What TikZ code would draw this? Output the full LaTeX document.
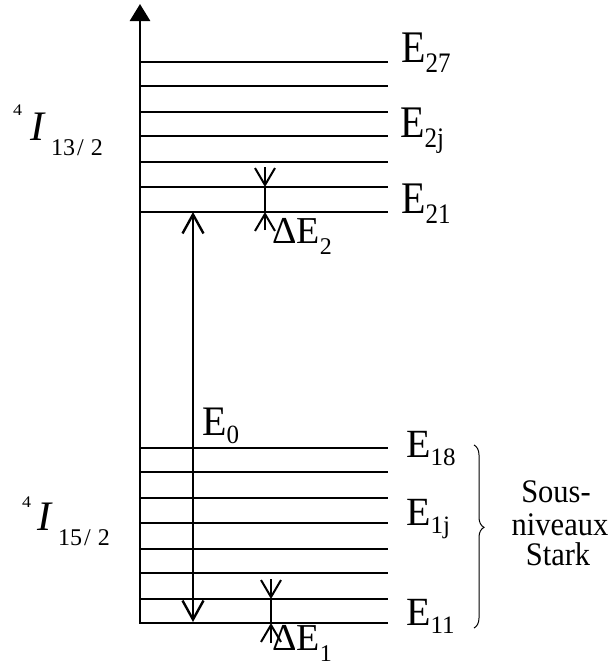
\documentclass[tikz,border=0pt]{standalone}
\usepackage{fontspec}
\usepackage{graphicx}
\setmainfont{Liberation Serif}
\usetikzlibrary{arrows.meta,decorations.pathreplacing}
\newcommand\lvlE[2][9pt]{E\raisebox{-#1}{\fontsize{25}{25}\selectfont #2}}
\newcommand\dlvlE[1]{ΔE\raisebox{-11pt}{\fontsize{24}{24}\selectfont #1}}
\newcommand\vstretch[2]{\scalebox{1}[#1]{#2}}
\tikzset{
  level/.style={line width=1.5pt},
  axisline/.style={line width=2.8pt, line join=miter, -{Triangle[length=17pt,width=20pt]}},
  trans/.style={line width=2.4pt, {Straight Barb[length=19pt,width=21pt]}-{Straight Barb[length=19pt,width=21pt]}},
  gapmark/.style={line width=2pt, -{Straight Barb[length=17pt,width=20pt]}},
  gapline/.style={line width=2pt},
  elab/.style={anchor=base west, inner sep=0pt, font=\fontsize{40}{40}\selectfont},
  termlab/.style={anchor=base west, inner sep=0pt},
  stark/.style={anchor=base, inner sep=0pt, font=\fontsize{30.5}{30.5}\selectfont},
}
\begin{document}
\begin{tikzpicture}[x=1pt,y=-1pt]
\useasboundingbox (0,0) rectangle (616,670);
% upper manifold levels
\foreach \y in {62,86,112,136,162,187,212} \draw[level] (139,\y) -- (388,\y);
% lower manifold levels
\foreach \y in {448,472,498,523,549,573,599} \draw[level] (139,\y) -- (388,\y);
% axis and ground line
\coordinate (gr) at (388,623);
\coordinate (corner) at (140,623);
\coordinate (top) at (140,4);
\draw[axisline] (gr) -- (corner) -- (top);
% E0 transition
\coordinate (t1) at (193,622);
\coordinate (t2) at (193,212);
\draw[trans] (t1) -- (t2);
% Delta E2
\coordinate (a1) at (265,167);
\coordinate (a2) at (265,187);
\coordinate (a3) at (265,212);
\coordinate (a4) at (265,230);
\draw[gapmark] (a1) -- (a2);
\draw[gapline] (a2) -- (a3);
\draw[gapmark] (a4) -- (a3);
% Delta E1
\coordinate (b1) at (271,579);
\coordinate (b2) at (271,599);
\coordinate (b3) at (271,623);
\coordinate (b4) at (271,643);
\draw[gapmark] (b1) -- (b2);
\draw[gapline] (b2) -- (b3);
\draw[gapmark] (b4) -- (b3);
% level labels
\node[elab] (e27) at (401,62) {\vstretch{1.13}{\lvlE{27}}};
\node[elab] (e2j) at (400,137) {\vstretch{1.13}{\lvlE{2j}}};
\node[elab] (e21) at (401,213) {\vstretch{1.13}{\lvlE{21}}};
\node[elab] (e18) at (406,457) {\lvlE[8pt]{18}};
\node[elab] (e1j) at (406,525) {\lvlE[8pt]{1j}};
\node[elab] (e11) at (406,625) {\lvlE[8pt]{11}};
\node[elab] (e0) at (202,435) {\vstretch{1.05}{\lvlE[8pt]{0}}};
\node[elab, font=\fontsize{38}{38}\selectfont] (de2) at (272,243) {\dlvlE{2}};
\node[elab, font=\fontsize{38}{38}\selectfont] (de1) at (272,650) {\dlvlE{1}};
% term symbols
\node[termlab, font=\fontsize{18}{18}\selectfont] (sup1) at (13,115) {\vstretch{0.9}{4}};
\node[termlab, font=\fontsize{42}{42}\selectfont\itshape] (i1) at (30,140) {I};
\node[termlab, font=\fontsize{24}{24}\selectfont] (sub1) at (51,155) {13\hspace{2pt}/\hspace{7pt}2};
\node[termlab, font=\fontsize{18}{18}\selectfont] (sup2) at (22,507) {\vstretch{0.9}{4}};
\node[termlab, font=\fontsize{42}{42}\selectfont\itshape] (i2) at (37,530) {I};
\node[termlab, font=\fontsize{24}{24}\selectfont] (sub2) at (58,545) {15\hspace{2pt}/\hspace{7pt}2};
% brace
\coordinate (br1) at (474,445);
\coordinate (br2) at (474,628);
\draw[line width=1pt, decorate, decoration={brace, amplitude=10pt, aspect=0.45}] (br1) -- (br2);
\node[stark] (s1) at (556,502) {\vstretch{1.08}{Sous-}};
\node[stark] (s2) at (560,535) {\vstretch{1.08}{niveaux}};
\node[stark] (s3) at (558,565) {\vstretch{1.08}{Stark}};
\end{tikzpicture}
\end{document}
